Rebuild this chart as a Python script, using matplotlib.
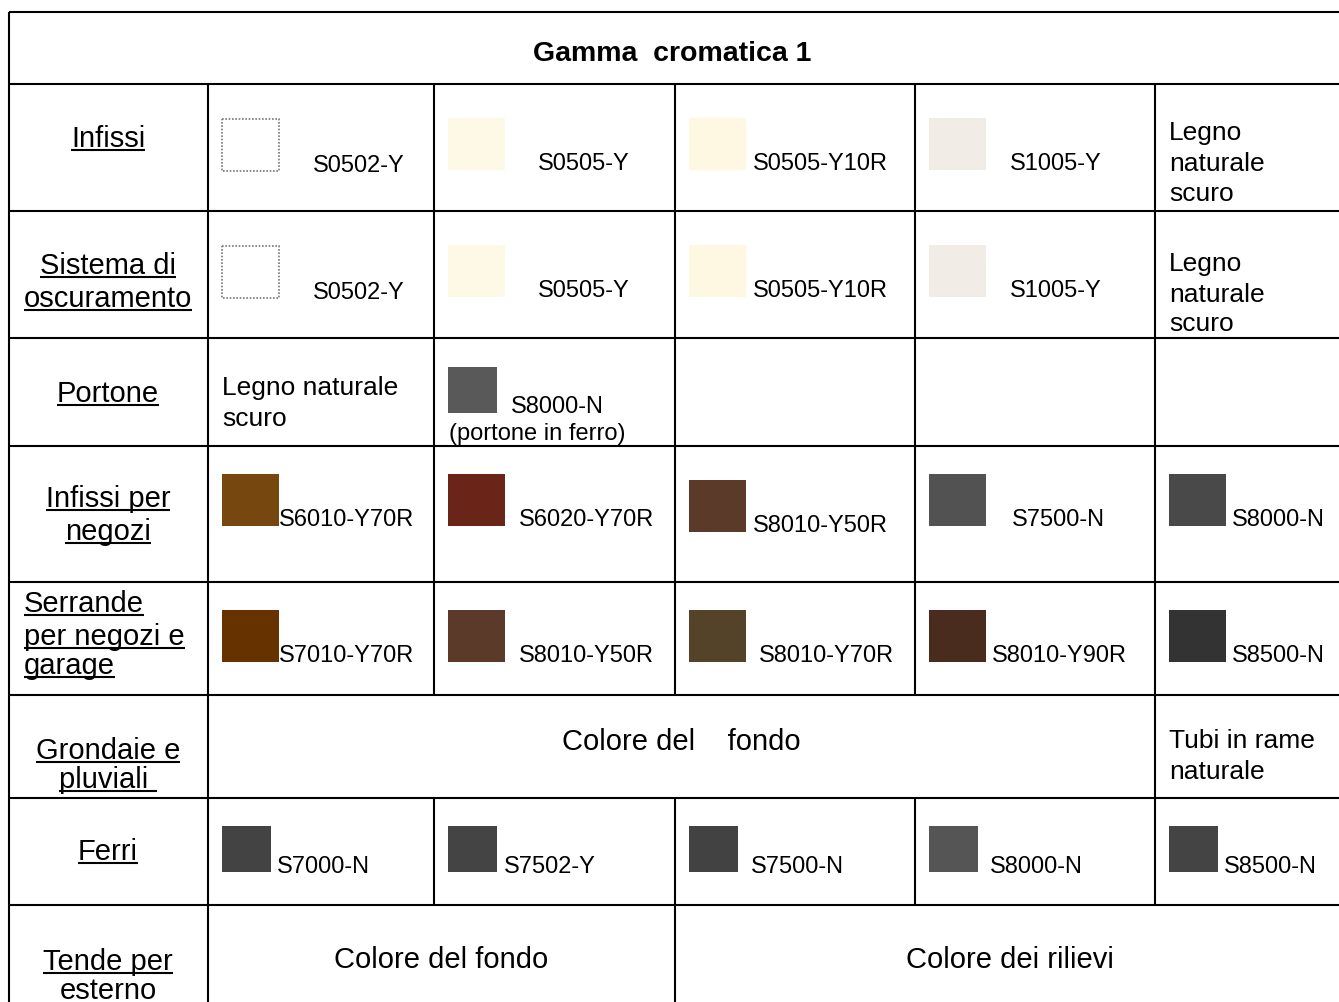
import matplotlib
matplotlib.use("Agg")
import matplotlib.pyplot as plt
from matplotlib.patches import Rectangle

plt.rcParams["font.family"] = ["Liberation Sans", "DejaVu Sans"]

# --- table content ---
title = "Gamma  cromatica 1"

row_labels = [
    ["Infissi"],
    ["Sistema di", "oscuramento"],
    ["Portone"],
    ["Infissi per", "negozi"],
    ["Serrande", "per negozi e", "garage"],
    ["Grondaie e", "pluviali "],
    ["Ferri"],
    ["Tende per", "esterno"],
]

infissi_codes  = ["S0502-Y", "S0505-Y", "S0505-Y10R", "S1005-Y"]
infissi_colors = ["#FFFFFF", "#FEF8E7", "#FEF8E3", "#F1EDE6"]

negozi_codes  = ["S6010-Y70R", "S6020-Y70R", "S8010-Y50R", "S7500-N", "S8000-N"]
negozi_colors = ["#774710", "#6A2418", "#5C3A29", "#525252", "#494949"]

serrande_codes  = ["S7010-Y70R", "S8010-Y50R", "S8010-Y70R", "S8010-Y90R", "S8500-N"]
serrande_colors = ["#663300", "#5C3A29", "#544229", "#4A2C1F", "#333333"]

ferri_codes  = ["S7000-N", "S7502-Y", "S7500-N", "S8000-N", "S8500-N"]
ferri_colors = ["#434343", "#444444", "#424242", "#555555", "#444444"]

portone_code  = "S8000-N"
portone_color = "#595959"

legno_lines = ["Legno", "naturale", "scuro"]
portone_lines = ["Legno naturale", "scuro"]
tubi_lines = ["Tubi in rame", "naturale"]

# --- layout (pixels) ---
W, H = 1339, 1003
col_edges = [9, 208, 434, 675, 915, 1155, 1339]
row_edges = [13, 85, 212, 339, 447, 583, 696, 799, 906, 1003]
LW = 1.5

fig = plt.figure(figsize=(W / 100, H / 100), dpi=100)
ax = fig.add_axes([0, 0, 1, 1])
ax.set_xlim(0, W)
ax.set_ylim(H, 0)
ax.axis("off")

# grid lines
for y in row_edges[:-1]:
    ax.plot([col_edges[0], W], [y, y], color="black", lw=LW, solid_capstyle="butt")
vlines = [
    (9, [(13, 1003)]),
    (208, [(85, 1003)]),
    (434, [(85, 696), (799, 906)]),
    (675, [(85, 696), (799, 1003)]),
    (915, [(85, 696), (799, 906)]),
    (1155, [(85, 906)]),
]
for x, spans in vlines:
    for y0, y1 in spans:
        ax.plot([x, x], [y0, y1], color="black", lw=LW, solid_capstyle="butt")

ax.text(672, 61, title, fontsize=20.5, fontweight="bold", ha="center", va="baseline")

# row labels (underlined)
label_baselines = [[147], [274, 307], [402], [507, 540], [612, 645, 674],
                   [759, 788], [860], [970, 999]]
underlined = []
for lines, bases in zip(row_labels, label_baselines):
    for txt, yb in zip(lines, bases):
        if lines[0] == "Serrande":
            t = ax.text(24, yb, txt, fontsize=21, ha="left", va="baseline")
        else:
            t = ax.text(108, yb, txt, fontsize=21, ha="center", va="baseline")
        if txt != "esterno":
            underlined.append((t, yb))


def swatch(x, y, w, h, color, dotted=False):
    if dotted:
        ax.add_patch(Rectangle((x, y), w, h, facecolor="white", edgecolor="#777777",
                               lw=1.2, linestyle=(0, (1, 1))))
    else:
        ax.add_patch(Rectangle((x, y), w, h, facecolor=color, edgecolor="none"))


def lines_at(x, bases, lines, size):
    for txt, yb in zip(lines, bases):
        ax.text(x, yb, txt, fontsize=size, ha="left", va="baseline")


# rows 1 and 2: infissi / sistema di oscuramento
infissi_text_dx = [105, 104, 78, 95]
for r, (dy_sw, base) in enumerate([(0, 171), (127, 298)]):
    for c, (code, col) in enumerate(zip(infissi_codes, infissi_colors)):
        x0 = col_edges[c + 1]
        top = 120 + dy_sw if c == 0 else 119 + dy_sw
        swatch(x0 + 14, top, 57, 52, col, dotted=(c == 0))
        yb = base + (1 if c == 0 else -1)
        ax.text(x0 + infissi_text_dx[c], yb, code, fontsize=17, va="baseline")
lines_at(1169, [140, 171, 201], legno_lines, 19)
lines_at(1169, [271, 302, 331], legno_lines, 19)

# row 3: portone
lines_at(222, [395, 426], portone_lines, 19)
swatch(448, 368, 49, 46, portone_color)
ax.text(511, 413, portone_code, fontsize=17, va="baseline")
ax.text(449, 440, "(portone in ferro)", fontsize=17, va="baseline")

# row 4: infissi per negozi
negozi_text_dx = [71, 85, 78, 97, 77]
for c, (code, col) in enumerate(zip(negozi_codes, negozi_colors)):
    x0 = col_edges[c + 1]
    off = 6 if c == 2 else 0
    swatch(x0 + 14, 475 + off, 57, 52, col)
    ax.text(x0 + negozi_text_dx[c], 526 + off, code, fontsize=17, va="baseline")

# row 5: serrande
serrande_text_dx = [71, 85, 84, 77, 77]
for c, (code, col) in enumerate(zip(serrande_codes, serrande_colors)):
    x0 = col_edges[c + 1]
    swatch(x0 + 14, 611, 57, 52, col)
    ax.text(x0 + serrande_text_dx[c], 662, code, fontsize=17, va="baseline")

# row 6: grondaie
ax.text(681, 750, "Colore del    fondo", fontsize=21, ha="center", va="baseline")
lines_at(1169, [748, 779], tubi_lines, 19)

# row 7: ferri
ferri_text_dx = [69, 70, 76, 75, 69]
for c, (code, col) in enumerate(zip(ferri_codes, ferri_colors)):
    x0 = col_edges[c + 1]
    swatch(x0 + 14, 827, 49, 46, col)
    ax.text(x0 + ferri_text_dx[c], 873, code, fontsize=17, va="baseline")

# row 8: tende
ax.text(441, 968, "Colore del fondo", fontsize=21, ha="center", va="baseline")
ax.text(1010, 968, "Colore dei rilievi", fontsize=21, ha="center", va="baseline")

# underlines for the row labels
fig.canvas.draw()
inv = ax.transData.inverted()
for t, yb in underlined:
    bb = t.get_window_extent()
    (x0, _), (x1, _) = inv.transform([(bb.x0, bb.y0), (bb.x1, bb.y1)])
    ax.plot([x0, x1], [yb + 4, yb + 4], color="black", lw=1.5, solid_capstyle="butt")

fig.savefig("out.png", dpi=100)
